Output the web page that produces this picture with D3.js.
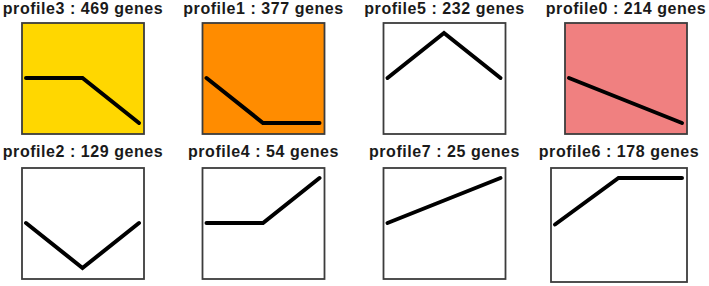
<!DOCTYPE html>
<html>
<head>
<meta charset="utf-8">
<script src="https://cdn.jsdelivr.net/npm/d3@7"></script>
<style>
  html, body { margin: 0; padding: 0; background: #fff; }
  svg { display: block; }
</style>
</head>
<body>
<script>
// ---- data ----
const profiles = ["profile3", "profile1", "profile5", "profile0", "profile2", "profile4", "profile7", "profile6"];
const geneCounts = [469, 377, 232, 214, 129, 54, 25, 178];
const timePoints = [0, 1, 2];
const profileValues = {
  profile0: [0, -1, -2],
  profile1: [0, -1, -1],
  profile2: [0, -1, 0],
  profile3: [0, 0, -1],
  profile4: [0, 0, 1],
  profile5: [0, 1, 0],
  profile6: [0, 1, 1],
  profile7: [0, 1, 2]
};
const fills = ["#FFD700", "#FF8C00", "#ffffff", "#F08080", "#ffffff", "#ffffff", "#ffffff", "#ffffff"];

// ---- layout ----
const W = 709, H = 286;
const colCenters = [83, 263.5, 444.5, 626];
const rowTops = [23, 168];
const titleBaselines = [14, 156.5];
const boxW = 122, boxH = 111;
const sizeOverride = { profile6: { cx: 619, w: 136, h: 114 } };

const svg = d3.select("body").append("svg").attr("width", W).attr("height", H);

profiles.forEach((p, i) => {
  const col = i % 4, row = Math.floor(i / 4);
  const ov = sizeOverride[p] || {};
  const cx = ov.cx || colCenters[col];
  const w = ov.w || boxW, h = ov.h || boxH;
  const x0 = cx - w / 2, y0 = rowTops[row];
  const g = svg.append("g");

  g.append("text")
    .attr("x", cx)
    .attr("y", titleBaselines[row])
    .attr("text-anchor", "middle")
    .attr("font-family", "'Liberation Sans', Arial, Helvetica, sans-serif")
    .attr("font-weight", "bold")
    .attr("font-size", 16)
    .attr("letter-spacing", 0.55)
    .attr("fill", "#1a1a1a")
    .text(`${p} : ${geneCounts[i]} genes`);

  g.append("rect")
    .attr("x", x0).attr("y", y0)
    .attr("width", w).attr("height", h)
    .attr("fill", fills[i])
    .attr("stroke", "#3c3c3c")
    .attr("stroke-width", 1.8);

  const vals = profileValues[p];
  const m = d3.max(vals, v => Math.abs(v)) || 1;
  const x = d3.scaleLinear().domain(d3.extent(timePoints)).range([x0 + 4, x0 + w - 5]);
  const y = d3.scaleLinear().domain([-m, m]).range([y0 + h - 11, y0 + 10]);

  g.append("path")
    .datum(timePoints.map((t, k) => [t, vals[k]]))
    .attr("fill", "none")
    .attr("stroke", "#000")
    .attr("stroke-width", 4)
    .attr("stroke-linecap", "round")
    .attr("stroke-linejoin", "miter")
    .attr("d", d3.line().x(d => x(d[0])).y(d => y(d[1])));
});
</script>
</body>
</html>
